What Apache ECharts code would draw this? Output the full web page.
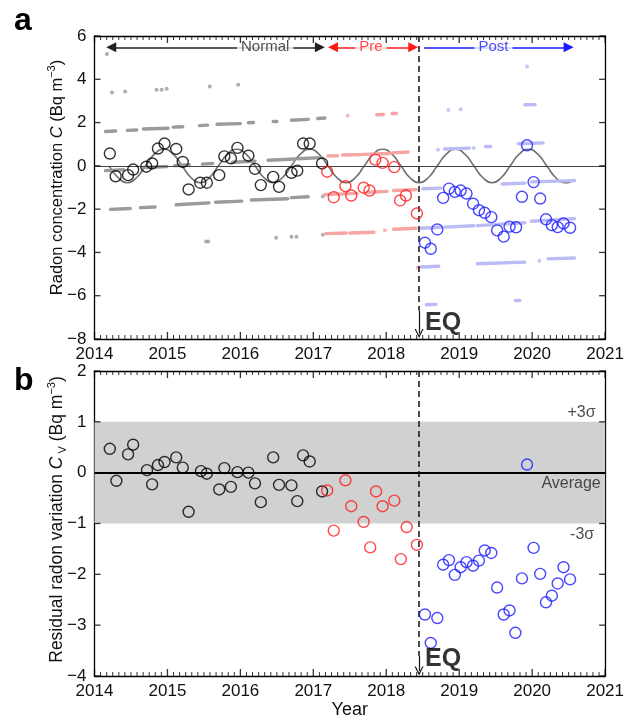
<!DOCTYPE html>
<html><head><meta charset="utf-8">
<script src="https://cdn.jsdelivr.net/npm/echarts@6/dist/echarts.min.js"></script>
<style>html,body{margin:0;padding:0;background:#fff}#c{width:627px;height:720px}</style>
</head><body><div id="c"></div>
<script>
// ---------- data ----------
const yearTicks = [2014, 2015, 2016, 2017, 2018, 2019, 2020, 2021];
const eqYear = 2018.45;

// panel a: radon concentration (open circles)
const normalTop = [[2014.21,0.57],[2014.29,-0.48],[2014.46,-0.43],[2014.53,-0.17],[2014.71,-0.04],[2014.79,0.11],[2014.87,0.8],[2014.96,1.03],[2015.12,0.78],[2015.21,0.18],[2015.29,-1.09],[2015.45,-0.78],[2015.54,-0.78],[2015.71,-0.43],[2015.78,0.44],[2015.87,0.35],[2015.96,0.83],[2016.11,0.47],[2016.2,-0.14],[2016.28,-0.89],[2016.45,-0.51],[2016.53,-0.97],[2016.7,-0.32],[2016.78,-0.22],[2016.86,1.03],[2016.95,1.03],[2017.12,0.11]];
const preTop = [[2017.19,-0.27],[2017.28,-1.45],[2017.44,-0.94],[2017.52,-1.37],[2017.69,-1.01],[2017.77,-1.14],[2017.85,0.29],[2017.95,0.14],[2018.11,-0.06],[2018.19,-1.6],[2018.27,-1.37],[2018.42,-2.2]];
const postTop = [[2018.53,-3.55],[2018.61,-3.83],[2018.7,-2.94],[2018.78,-1.48],[2018.86,-1.05],[2018.94,-1.2],[2019.02,-1.14],[2019.1,-1.28],[2019.19,-1.75],[2019.27,-2.05],[2019.35,-2.17],[2019.44,-2.37],[2019.52,-2.98],[2019.61,-3.27],[2019.69,-2.81],[2019.78,-2.84],[2019.86,-1.43],[2019.93,0.95],[2020.02,-0.75],[2020.11,-1.51],[2020.19,-2.47],[2020.27,-2.74],[2020.35,-2.83],[2020.43,-2.66],[2020.52,-2.86]];

// panel a: fitted annual cycle
const fitCurve = [[2014.2,0],[2014.325,-0.55],[2014.45,-0.78],[2014.575,-0.55],[2014.7,0],[2014.825,0.55],[2014.95,0.77],[2015.075,0.55],
[2015.2,0],[2015.325,-0.55],[2015.45,-0.78],[2015.575,-0.55],[2015.7,0],[2015.825,0.55],[2015.95,0.77],[2016.075,0.55],
[2016.2,0],[2016.325,-0.55],[2016.45,-0.78],[2016.575,-0.55],[2016.7,0],[2016.825,0.55],[2016.95,0.77],[2017.075,0.55],
[2017.2,0],[2017.325,-0.55],[2017.45,-0.78],[2017.575,-0.55],[2017.7,0],[2017.825,0.55],[2017.95,0.77],[2018.075,0.55],
[2018.2,0],[2018.325,-0.55],[2018.45,-0.78],[2018.575,-0.55],[2018.7,0],[2018.825,0.55],[2018.95,0.77],[2019.075,0.55],
[2019.2,0],[2019.325,-0.55],[2019.45,-0.78],[2019.575,-0.55],[2019.7,0],[2019.825,0.55],[2019.95,0.77],[2020.075,0.55],
[2020.2,0],[2020.325,-0.55],[2020.45,-0.78],[2020.53,-0.74]];

// panel a: faint level traces (segments [start,end]) and isolated dots
const grayDashes = [
 [[2014.15,1.59],[2014.29,1.61]],[[2014.45,1.64],[2014.58,1.66]],[[2014.67,1.7],[2015.01,1.74]],[[2015.08,1.79],[2015.21,1.81]],
 [[2015.44,1.86],[2015.55,1.88]],[[2015.68,1.92],[2016.0,1.95]],[[2016.11,1.99],[2016.18,2.0]],[[2016.45,2.05],[2016.5,2.06]],
 [[2016.7,2.11],[2016.93,2.15]],[[2017.06,2.19],[2017.16,2.21]],
 [[2014.15,-0.22],[2014.4,-0.18]],[[2014.67,-0.08],[2014.99,-0.03]],[[2015.1,0.01],[2015.3,0.05]],[[2015.48,0.08],[2015.62,0.11]],
 [[2015.89,0.17],[2016.2,0.22]],[[2016.38,0.26],[2016.75,0.32]],[[2016.79,0.33],[2017.11,0.38]],
 [[2014.22,-2.01],[2014.49,-1.97]],[[2014.63,-1.93],[2014.83,-1.9]],[[2015.12,-1.8],[2015.57,-1.71]],
 [[2015.66,-1.68],[2016.02,-1.63]],[[2016.15,-1.58],[2016.65,-1.52]],[[2016.7,-1.47],[2016.93,-1.43]]
];
const grayDots = [[2014.17,5.17],[2014.24,3.39],[2014.42,3.43],[2014.85,3.52],[2014.92,3.52],[2014.99,3.56],[2015.58,3.67],[2015.97,3.75],[2015.53,-3.5],[2015.56,-3.5],[2016.49,-3.32],[2016.7,-3.27],[2016.77,-3.27],[2017.13,-3.18],[2017.13,-1.42]];
const redDashes = [
 [[2017.2,0.46],[2017.33,0.47]],[[2017.4,0.5],[2017.65,0.52]],[[2017.68,0.53],[2018.05,0.57]],[[2018.08,0.6],[2018.3,0.64]],
 [[2017.15,-1.33],[2017.6,-1.27]],[[2017.74,-1.22],[2018.01,-1.18]],[[2018.1,-1.14],[2018.41,-1.1]],
 [[2017.17,-3.13],[2017.45,-3.1]],[[2017.5,-3.1],[2017.83,-3.07]],[[2018.1,-2.93],[2018.41,-2.88]],
 [[2017.87,2.36],[2017.96,2.37]],[[2018.08,2.41],[2018.14,2.41]]
];
const redDots = [[2017.47,2.32],[2017.98,-2.98],[2018.43,-4.7]];
const blueDashes = [
 [[2018.8,0.78],[2019.14,0.82]],[[2019.36,0.9],[2019.43,0.9]],[[2019.81,1.02],[2020.15,1.06]],
 [[2018.5,-1.06],[2018.75,-1.03]],[[2019.59,-0.84],[2019.9,-0.8]],[[2019.99,-0.74],[2020.58,-0.68]],
 [[2018.48,-2.88],[2018.75,-2.84]],[[2018.8,-2.83],[2019.2,-2.77]],[[2019.25,-2.76],[2019.9,-2.63]],[[2019.99,-2.56],[2020.58,-2.44]],
 [[2018.48,-4.67],[2018.72,-4.64]],[[2019.25,-4.52],[2019.9,-4.45]],[[2020.22,-4.3],[2020.58,-4.26]],
 [[2018.55,-6.42],[2018.68,-6.4]],[[2019.77,-6.2],[2019.83,-6.19]],[[2019.9,2.82],[2020.04,2.83]]
];
const blueDots = [[2018.71,0.75],[2019.2,0.83],[2018.85,2.58],[2019.02,2.62],[2019.93,4.59],[2020.1,-4.38]];

// panel b: residual radon variation
const normalRes = [[2014.21,0.47],[2014.3,-0.16],[2014.46,0.36],[2014.53,0.55],[2014.72,0.05],[2014.79,-0.23],[2014.87,0.15],[2014.96,0.21],[2015.12,0.3],[2015.21,0.1],[2015.29,-0.77],[2015.46,0.03],[2015.54,-0.02],[2015.71,-0.33],[2015.78,0.09],[2015.87,-0.28],[2015.96,0.01],[2016.11,0.0],[2016.2,-0.21],[2016.28,-0.58],[2016.45,0.3],[2016.53,-0.24],[2016.7,-0.25],[2016.78,-0.56],[2016.86,0.34],[2016.95,0.22],[2017.12,-0.37]];
const preRes = [[2017.19,-0.35],[2017.28,-1.14],[2017.44,-0.15],[2017.52,-0.66],[2017.69,-0.97],[2017.78,-1.47],[2017.86,-0.37],[2017.95,-0.66],[2018.11,-0.55],[2018.2,-1.7],[2018.28,-1.07],[2018.42,-1.42]];
const postRes = [[2018.53,-2.79],[2018.61,-3.35],[2018.7,-2.86],[2018.78,-1.81],[2018.86,-1.72],[2018.94,-2.01],[2019.02,-1.86],[2019.1,-1.76],[2019.19,-1.83],[2019.27,-1.73],[2019.35,-1.53],[2019.44,-1.58],[2019.52,-2.26],[2019.61,-2.79],[2019.69,-2.71],[2019.77,-3.15],[2019.86,-2.08],[2019.93,0.16],[2020.02,-1.48],[2020.11,-1.99],[2020.19,-2.55],[2020.27,-2.42],[2020.35,-2.18],[2020.43,-1.86],[2020.52,-2.1]];
const sigmaBand = [-1, 1];

// ---------- chart ----------
const FONT = "'Liberation Sans', Arial, Helvetica, sans-serif";
const chart = echarts.init(document.getElementById('c'), null, {renderer: 'canvas'});
const minus = v => String(v).replace('-', '\u2212');

function xAx(grid, pos, showLabel, name) {
  return {
    type: 'value', gridIndex: grid, position: pos, min: yearTicks[0], max: yearTicks[yearTicks.length - 1], interval: 1,
    name: name || '', nameLocation: 'middle', nameGap: 24,
    nameTextStyle: {fontSize: 18, color: '#111', fontFamily: FONT},
    axisLine: {show: true, onZero: false, lineStyle: {color: '#000', width: 1.3}},
    axisTick: {show: false}, minorTick: {show: false},
    axisLabel: {show: showLabel, fontSize: 17, color: '#111', fontFamily: FONT, margin: 7, formatter: v => String(v)},
    splitLine: {show: false}, minorSplitLine: {show: false}
  };
}
function yAx(grid, pos, min, max, interval, showLabel, name, fs, pad) {
  return {
    type: 'value', gridIndex: grid, position: pos, min: min, max: max, interval: interval,
    name: name || '', nameLocation: 'middle', nameGap: 26, nameRotate: 90, nameMoveOverlap: false,
    nameTextStyle: {
      fontFamily: FONT, color: '#111', padding: [0, 0, 0, pad || 0],
      rich: {
        n: {fontSize: fs, fontFamily: FONT, color: '#111', lineHeight: 22},
        i: {fontSize: fs, fontFamily: FONT, fontStyle: 'italic', color: '#111', lineHeight: 22},
        s: {fontSize: 11, fontFamily: FONT, color: '#111', lineHeight: 12, verticalAlign: 'top'},
        b: {fontSize: 11, fontFamily: FONT, color: '#111', lineHeight: 12, verticalAlign: 'bottom'}
      }
    },
    axisLine: {show: true, onZero: false, lineStyle: {color: '#000', width: 1.3}},
    axisTick: {show: false},
    axisLabel: {show: showLabel, fontSize: 17, color: '#111', fontFamily: FONT, margin: 8, formatter: minus},
    splitLine: {show: false}
  };
}
// inward frame ticks drawn as thin rect symbols placed through the axes' scales
function tickMarks(xi, yi, yMin, yMax, yStep) {
  const first = yearTicks[0], last = yearTicks[yearTicks.length - 1];
  const months = [];
  for (let m = 1; m < (last - first) * 12; m++) if (m % 12) months.push(first + m / 12);
  const yVals = [];
  for (let v = yMin; v <= yMax + 1e-9; v += yStep) yVals.push(v);
  const base = {type: 'scatter', xAxisIndex: xi, yAxisIndex: yi, symbol: 'rect', silent: true, clip: false, z: 12,
    itemStyle: {color: '#000'}, emphasis: {disabled: true}};
  return [
    Object.assign({}, base, {data: yearTicks.map(t => [t, yMin]), symbolSize: [1.3, 7], symbolOffset: [0, -3.5]}),
    Object.assign({}, base, {data: yearTicks.map(t => [t, yMax]), symbolSize: [1.3, 7], symbolOffset: [0, 3.5]}),
    Object.assign({}, base, {data: months.map(t => [t, yMin]), symbolSize: [1, 4], symbolOffset: [0, -2]}),
    Object.assign({}, base, {data: months.map(t => [t, yMax]), symbolSize: [1, 4], symbolOffset: [0, 2]}),
    Object.assign({}, base, {data: yVals.map(v => [first, v]), symbolSize: [6, 1.3], symbolOffset: [3, 0]}),
    Object.assign({}, base, {data: yVals.map(v => [last, v]), symbolSize: [6, 1.3], symbolOffset: [-3, 0]})
  ];
}

const circle = (data, color, xi, yi) => ({
  type: 'scatter', xAxisIndex: xi, yAxisIndex: yi, data: data, symbol: 'circle', symbolSize: 11, z: 5,
  itemStyle: {color: 'rgba(0,0,0,0)', borderColor: color, borderWidth: 1.4}, silent: true
});
// level-trace dashes drawn as mark-line segments in data coordinates
const dashes = (data, color) => ({
  type: 'scatter', xAxisIndex: 0, yAxisIndex: 0, data: [], z: 1, silent: true,
  markLine: {silent: true, animation: false, symbol: 'none', label: {show: false},
    lineStyle: {color: color, width: 3.4, cap: 'round', type: 'solid', opacity: 1},
    emphasis: {disabled: true},
    data: data.map(s => [{coord: s[0]}, {coord: s[1]}])}
});
const dots = (data, color) => ({
  type: 'scatter', xAxisIndex: 0, yAxisIndex: 0, data: data, symbolSize: 4, z: 1, silent: true,
  itemStyle: {color: color}
});
const chevron = 'path://M0,9 L5,0 L10,9 L8.6,9 L5,2.6 L1.4,9 Z';
const txt = (x, y, text, style) => ({value: [x, y], label: Object.assign({show: true, formatter: text, fontFamily: FONT}, style)});

const GRAY = '#9b9b9b', LRED = '#f6a4a4', LBLUE = '#bbbbf5';

const option = {
  animation: false,
  grid: [
    {left: 94.5, top: 36, width: 516.5, height: 303},
    {left: 94.5, top: 371, width: 516.5, height: 305}
  ],
  xAxis: [
    xAx(0, 'bottom', true), xAx(0, 'top', false),
    xAx(1, 'bottom', true, 'Year'), xAx(1, 'top', false)
  ],
  yAxis: [
    yAx(0, 'left', -8, 6, 2, true, '{n|Radon concentration }{i|C}{n| (Bq m}{s|\u22123}{n|)}', 16.5, 20),
    yAx(0, 'right', -8, 6, 2, false),
    yAx(1, 'left', -4, 2, 1, true, '{n|Residual radon variation }{i|C}{b| V}{n| (Bq m}{s|\u22123}{n|)}', 17.5, 8),
    yAx(1, 'right', -4, 2, 1, false)
  ],
  graphic: [
    {type: 'text', left: 14, top: 5, style: {text: 'a', fontSize: 32, fontWeight: 900, fontFamily: FONT, fill: '#000'}},
    {type: 'text', left: 14, top: 365, style: {text: 'b', fontSize: 32, fontWeight: 900, fontFamily: FONT, fill: '#000'}}
  ],
  series: [
    dashes(grayDashes, GRAY),
    dashes(redDashes, LRED),
    dashes(blueDashes, LBLUE),
    dots(grayDots, GRAY),
    dots(redDots, LRED),
    dots(blueDots, LBLUE),
    {
      type: 'line', xAxisIndex: 0, yAxisIndex: 0, data: fitCurve, smooth: 0.5, showSymbol: false, z: 3, silent: true,
      lineStyle: {color: '#707070', width: 1.6},
      markLine: {silent: true, symbol: 'none', label: {show: false}, animation: false,
        lineStyle: {color: '#444', width: 1, type: 'solid'}, data: [{yAxis: 0}]}
    },
    circle(normalTop, '#000', 0, 0),
    circle(preTop, '#ff1a1a', 0, 0),
    circle(postTop, '#1a1aff', 0, 0),
    // panel a annotations
    {
      type: 'scatter', xAxisIndex: 0, yAxisIndex: 0, symbolSize: 1, z: 8, silent: true,
      itemStyle: {color: 'rgba(0,0,0,0)'},
      data: [
        txt(2016.34, 5.48, 'Normal', {position: 'inside', fontSize: 15, color: '#222', backgroundColor: '#fff', padding: [1, 4]}),
        txt(2017.79, 5.48, 'Pre', {position: 'inside', fontSize: 15, color: '#ff1a1a', backgroundColor: '#fff', padding: [1, 4]}),
        txt(2019.47, 5.48, 'Post', {position: 'inside', fontSize: 15, color: '#1a1aff', backgroundColor: '#fff', padding: [1, 4]}),
        txt(2018.78, -7.26, 'EQ', {position: 'inside', fontSize: 25, fontWeight: 'bold', color: '#000'})
      ],
      markLine: {
        silent: true, animation: false, label: {show: false}, symbolSize: 10,
        data: [
          [{coord: [2014.23, 5.48], symbol: 'triangle', lineStyle: {color: '#222', width: 1.5, type: 'solid'}}, {coord: [2017.09, 5.48], symbol: 'triangle'}],
          [{coord: [2017.27, 5.48], symbol: 'triangle', lineStyle: {color: '#ff1a1a', width: 1.5, type: 'solid'}}, {coord: [2018.37, 5.48], symbol: 'triangle'}],
          [{coord: [2018.52, 5.48], symbol: 'none', lineStyle: {color: '#1a1aff', width: 1.5, type: 'solid'}}, {coord: [2020.5, 5.48], symbol: 'triangle'}],
          [{coord: [eqYear, 6], symbol: 'none', lineStyle: {color: '#111', width: 1.5, type: [6, 4]}}, {coord: [eqYear, -6.7], symbol: 'none'}],
          [{coord: [eqYear, -6.7], symbol: 'none', lineStyle: {color: '#111', width: 1.2, type: 'solid'}}, {coord: [eqYear, -7.75], symbol: chevron, symbolSize: 9}]
        ]
      }
    },
    // panel b
    {
      type: 'scatter', xAxisIndex: 2, yAxisIndex: 2, data: [], z: 1, silent: true,
      markArea: {silent: true, itemStyle: {color: '#d0d1d1', opacity: 1},
        data: [[{yAxis: sigmaBand[0]}, {yAxis: sigmaBand[1]}]]},
      markLine: {silent: true, symbol: 'none', label: {show: false}, animation: false,
        lineStyle: {color: '#000', width: 2.2, type: 'solid'}, data: [{yAxis: 0}]}
    },
    circle(normalRes, '#000', 2, 2),
    circle(preRes, '#ff1a1a', 2, 2),
    circle(postRes, '#1a1aff', 2, 2),
    {
      type: 'scatter', xAxisIndex: 2, yAxisIndex: 2, symbolSize: 1, z: 8, silent: true,
      itemStyle: {color: 'rgba(0,0,0,0)'},
      data: [
        txt(2020.87, 1.18, '+3\u03c3', {position: 'inside', align: 'right', fontSize: 16, color: '#222'}),
        txt(2020.94, -0.21, 'Average', {position: 'inside', align: 'right', fontSize: 16, color: '#222'}),
        txt(2020.85, -1.22, '-3\u03c3', {position: 'inside', align: 'right', fontSize: 16, color: '#222'}),
        txt(2018.78, -3.66, 'EQ', {position: 'inside', fontSize: 25, fontWeight: 'bold', color: '#000'})
      ],
      markLine: {
        silent: true, animation: false, label: {show: false}, symbolSize: 10,
        data: [
          [{coord: [eqYear, 2], symbol: 'none', lineStyle: {color: '#111', width: 1.5, type: [6, 4]}}, {coord: [eqYear, -3.6], symbol: 'none'}],
          [{coord: [eqYear, -3.6], symbol: 'none', lineStyle: {color: '#111', width: 1.2, type: 'solid'}}, {coord: [eqYear, -3.9], symbol: chevron, symbolSize: 9}]
        ]
      }
    }
  ].concat(tickMarks(0, 0, -8, 6, 2), tickMarks(2, 2, -4, 2, 1))
};
chart.setOption(option);
</script>
</body></html>
